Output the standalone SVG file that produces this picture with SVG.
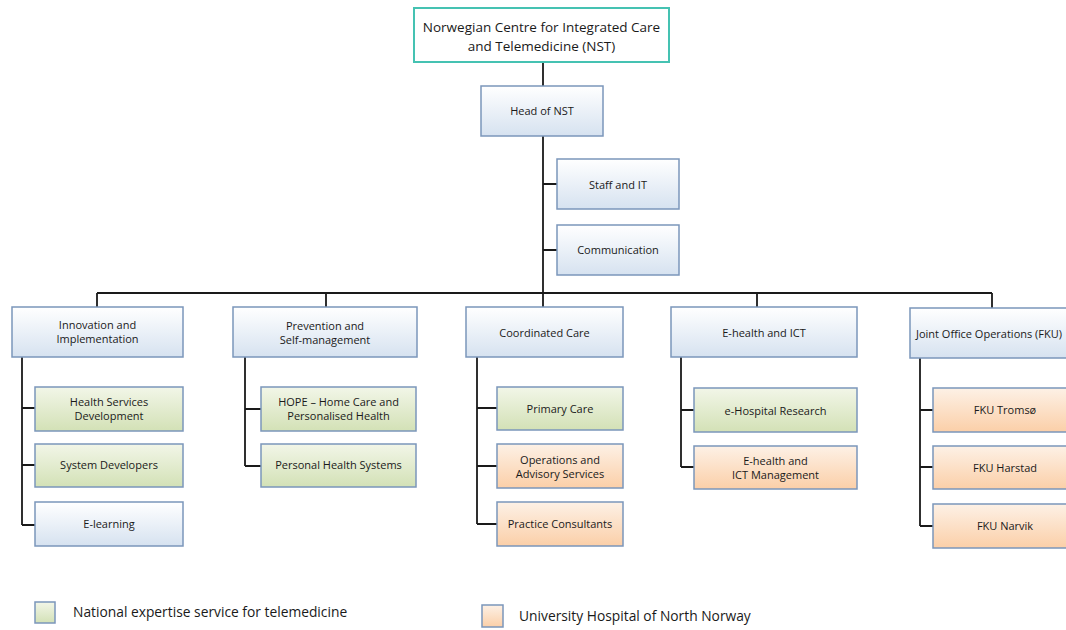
<svg xmlns="http://www.w3.org/2000/svg" width="1066" height="630" viewBox="0 0 1066 630">
<defs>
<linearGradient id="gb" x1="0" y1="0" x2="0" y2="1"><stop offset="0" stop-color="#ffffff"/><stop offset="1" stop-color="#d6e2f0"/></linearGradient>
<linearGradient id="gg" x1="0" y1="0" x2="0" y2="1"><stop offset="0" stop-color="#f2f6e8"/><stop offset="1" stop-color="#d3e1b6"/></linearGradient>
<linearGradient id="go" x1="0" y1="0" x2="0" y2="1"><stop offset="0" stop-color="#fdf1e6"/><stop offset="1" stop-color="#fbcfa8"/></linearGradient>
</defs>
<style>
rect{stroke:#7b96bb;stroke-width:1.5}
.b{fill:url(#gb)}
.g{fill:url(#gg)}
.o{fill:url(#go)}
.top{fill:#ffffff;stroke:#45c2b2;stroke-width:2}
text{font-family:"Open Sans","Liberation Sans",sans-serif;font-size:11px;fill:#1a1a1a;text-anchor:middle}
.tt{font-size:13.5px}
.lg{font-size:13.8px;text-anchor:start}
#connectors path{stroke:#1a1a1a;stroke-width:1.8;fill:none}
</style>
<rect width="1066" height="630" style="fill:#fff;stroke:none"/>
<g id="connectors">
<path d="M543 62V86M543 136V293M543 184H557M543 250H557"/>
<path d="M97 293H992M97 293V307M326 293V307M543 293V307M757 293V307M992 293V308"/>
<path d="M22 357V525M22 408H35M22 465H35M22 525H35"/>
<path d="M245 357V466M245 409H261M245 466H261"/>
<path d="M477 357V524M477 408H497M477 466H497M477 524H497"/>
<path d="M681 357V467M681 410H694M681 467H694"/>
<path d="M920 358V526M920 410H933M920 467H933M920 526H933"/>
</g>
<g id="nst"><rect class="top" x="414" y="8" width="255" height="54"/><text class="tt" x="541.5" y="32">Norwegian Centre for Integrated Care</text><text class="tt" x="541.5" y="51">and Telemedicine (NST)</text></g>
<g id="head"><rect class="b" x="481" y="86" width="122" height="50"/><text x="542" y="115">Head of NST</text></g>
<g id="staff"><rect class="b" x="557" y="159" width="122" height="50"/><text x="618" y="189">Staff and IT</text></g>
<g id="comm"><rect class="b" x="557" y="225" width="122" height="50"/><text x="618" y="254">Communication</text></g>
<g id="innov"><rect class="b" x="12" y="307" width="171" height="50"/><text x="97.5" y="329">Innovation and</text><text x="97.5" y="343">Implementation</text></g>
<g id="prev"><rect class="b" x="233" y="307" width="184" height="50"/><text x="325" y="330">Prevention and</text><text x="325" y="344">Self-management</text></g>
<g id="coord"><rect class="b" x="466" y="307" width="157" height="50"/><text x="544.5" y="337">Coordinated Care</text></g>
<g id="ehealth"><rect class="b" x="671" y="307" width="186" height="50"/><text x="764" y="337">E-health and ICT</text></g>
<g id="joint"><rect class="b" x="910" y="308" width="160" height="50"/><text x="989" y="338">Joint Office Operations (FKU)</text></g>
<g id="hsd"><rect class="g" x="35" y="387" width="148" height="44"/><text x="109" y="406">Health Services</text><text x="109" y="420">Development</text></g>
<g id="sysdev"><rect class="g" x="35" y="444" width="148" height="43"/><text x="109" y="469">System Developers</text></g>
<g id="elearn"><rect class="b" x="35" y="502" width="148" height="44"/><text x="109" y="528">E-learning</text></g>
<g id="hope"><rect class="g" x="261" y="387" width="155" height="44"/><text x="338.5" y="406">HOPE – Home Care and</text><text x="338.5" y="420">Personalised Health</text></g>
<g id="phs"><rect class="g" x="261" y="444" width="155" height="43"/><text x="338.5" y="469">Personal Health Systems</text></g>
<g id="primary"><rect class="g" x="497" y="387" width="126" height="43"/><text x="560" y="413">Primary Care</text></g>
<g id="ops"><rect class="o" x="497" y="444" width="126" height="44"/><text x="560" y="464">Operations and</text><text x="560" y="478">Advisory Services</text></g>
<g id="practice"><rect class="o" x="497" y="502" width="126" height="44"/><text x="560" y="528">Practice Consultants</text></g>
<g id="ehr"><rect class="g" x="694" y="388" width="163" height="44"/><text x="775.5" y="415">e-Hospital Research</text></g>
<g id="ehm"><rect class="o" x="694" y="446" width="163" height="43"/><text x="775.5" y="465">E-health and</text><text x="775.5" y="479">ICT Management</text></g>
<g id="fkut"><rect class="o" x="933" y="388" width="145" height="44"/><text x="1005" y="414">FKU Tromsø</text></g>
<g id="fkuh"><rect class="o" x="933" y="446" width="145" height="43"/><text x="1005" y="472">FKU Harstad</text></g>
<g id="fkun"><rect class="o" x="933" y="504" width="145" height="44"/><text x="1005" y="530">FKU Narvik</text></g>
<g id="legend-green"><rect class="g" x="35" y="602" width="20" height="21"/><text class="lg" x="73" y="617">National expertise service for telemedicine</text></g>
<g id="legend-orange"><rect class="o" x="482" y="605" width="21" height="22"/><text class="lg" x="519" y="621">University Hospital of North Norway</text></g>
</svg>
